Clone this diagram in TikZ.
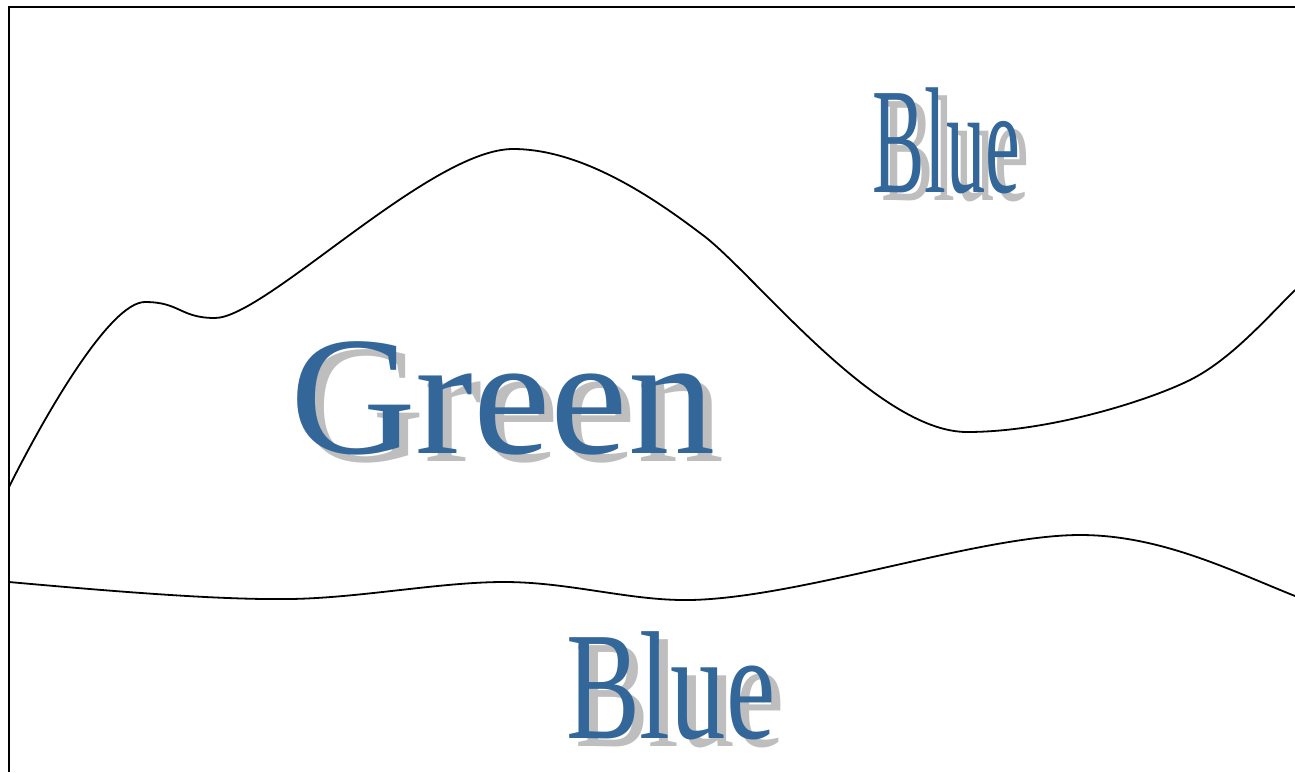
\documentclass[tikz,border=0pt]{standalone}
\usepackage{fontspec}
\setmainfont{Liberation Serif}
\usepackage{graphicx}
\definecolor{wordblue}{RGB}{51,102,153}
\definecolor{ghostgray}{RGB}{190,190,190}
\tikzset{
  wordtxt/.style={inner sep=0pt,outer sep=0pt,anchor=base west,text=wordblue},
  ghost/.style={wordtxt,text=ghostgray}
}
\begin{document}
\begin{tikzpicture}[x=1pt,y=-1pt]
    \useasboundingbox (0,0) rectangle (1295,772);
    % Frame (top and left edge only)
    \draw[line width=2.4pt] (9,772) -- (9,7) -- (1295,7);
    % Upper boundary
    \draw[line width=1.8pt] (9,487) .. controls (45,415) and (110,302) .. (145,302)
      .. controls (180,302) and (180,318) .. (215,318)
      .. controls (265,318) and (430,149) .. (513,149)
      .. controls (580,149) and (650,195) .. (700,233)
      .. controls (750,268) and (875,432) .. (967,432)
      .. controls (1050,432) and (1150,400) .. (1190,380)
      .. controls (1230,360) and (1265,320) .. (1295,290);
    % Lower boundary
    \draw[line width=1.8pt] (9,582) .. controls (120,592) and (220,600) .. (290,599)
      .. controls (360,598) and (440,582) .. (504,582)
      .. controls (570,582) and (630,601) .. (690,600)
      .. controls (800,598) and (980,535) .. (1080,535)
      .. controls (1160,535) and (1230,570) .. (1295,596);
    % Labels with shadow
    \node[ghost] at (299,461) {\scalebox{1.03}[1]{\fontsize{169}{169}\selectfont Green}};
    \node[wordtxt] (green) at (290,453) {\scalebox{1.03}[1]{\fontsize{169}{169}\selectfont Green}};
    \node[ghost] at (881,200) {\scalebox{0.52}[1]{\fontsize{151}{151}\selectfont Blue}};
    \node[wordtxt] (blueup) at (872,192) {\scalebox{0.52}[1]{\fontsize{151}{151}\selectfont Blue}};
    \node[ghost] at (575,746) {\scalebox{0.72}[1]{\fontsize{154}{154}\selectfont Blue}};
    \node[wordtxt] (bluedown) at (566,738) {\scalebox{0.72}[1]{\fontsize{154}{154}\selectfont Blue}};
\end{tikzpicture}
\end{document}
